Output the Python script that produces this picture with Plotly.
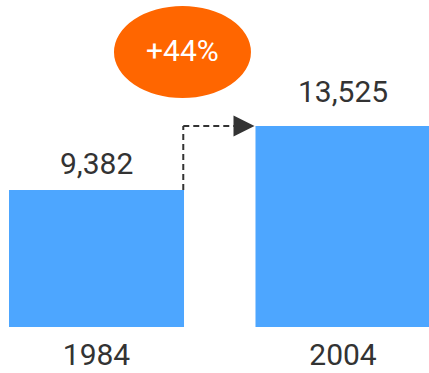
import plotly.graph_objects as go

# Data
years = ["1984", "2004"]
values = [9382, 13525]

BAR_COLOR = "#4da6ff"
TEXT_COLOR = "#333333"
ORANGE = "#ff6600"
FONT = "Roboto"

xpos = list(range(len(years)))
bar_width = 0.71
growth = (values[1] / values[0] - 1) * 100

fig = go.Figure(
    go.Bar(
        x=xpos,
        y=values,
        width=bar_width,
        marker=dict(color=BAR_COLOR, line=dict(width=0)),
        hoverinfo="skip",
    )
)

# Value labels above each bar
label_shift = [7, 15]
for xi, v, s in zip(xpos, values, label_shift):
    fig.add_annotation(
        x=xi, y=v, text=f"{v:,}", showarrow=False,
        yanchor="bottom", yshift=s,
        font=dict(family=FONT, size=30, color=TEXT_COLOR),
    )

# Dashed connector from first bar top to second bar
edge0 = xpos[0] + bar_width / 2 - 0.003
edge1 = xpos[1] - bar_width / 2
line_style = dict(color=TEXT_COLOR, width=2, dash="6px,4px")
fig.add_shape(type="line", x0=edge0, x1=edge0, y0=values[0], y1=values[1],
              xref="x", yref="y", line=line_style)
fig.add_shape(type="line", x0=edge0, x1=edge1 - 0.05, y0=values[1], y1=values[1],
              xref="x", yref="y", line=line_style)
fig.add_annotation(
    x=edge1 - 0.004, y=values[1], ax=-16, ay=0, text="",
    showarrow=True, arrowhead=2, arrowsize=2.1, arrowwidth=2,
    arrowcolor=TEXT_COLOR,
)

# Growth badge
fig.add_shape(type="circle", xref="paper", yref="paper",
              x0=0.2657, x1=0.585, y0=0.7003, y1=0.9817,
              fillcolor=ORANGE, line=dict(width=0))
fig.add_annotation(
    xref="paper", yref="paper", x=0.4254, y=0.845,
    xanchor="center", yanchor="middle",
    text=f"+{growth:.0f}%", showarrow=False,
    font=dict(family=FONT, size=30, color="white"),
)

fig.update_layout(
    width=429, height=373,
    margin=dict(l=0, r=0, t=0, b=46),
    paper_bgcolor="white", plot_bgcolor="white",
    showlegend=False,
    font=dict(family=FONT, color=TEXT_COLOR),
    xaxis=dict(
        range=[-0.3915, 1.3489],
        tickvals=xpos, ticktext=years,
        tickfont=dict(family=FONT, size=30, color=TEXT_COLOR),
        showgrid=False, zeroline=False, showline=False, ticks="",
        ticklabelstandoff=7, automargin=False, fixedrange=True,
    ),
    yaxis=dict(
        range=[514, 21682], visible=False, fixedrange=True,
        automargin=False,
    ),
)

fig.write_html("out.html", config={"displayModeBar": False})
